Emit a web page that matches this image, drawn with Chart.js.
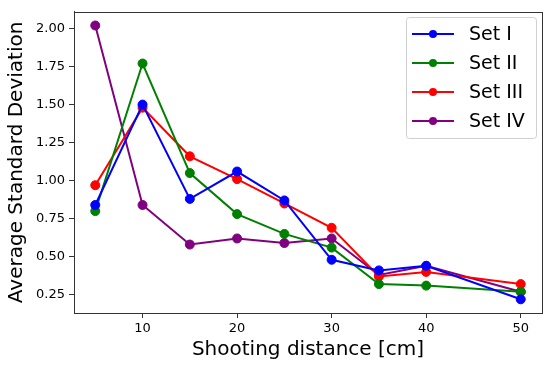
<!DOCTYPE html>
<html>
<head>
<meta charset="utf-8">
<script src="https://cdn.jsdelivr.net/npm/chart.js@4"></script>
<style>
  html, body { margin: 0; padding: 0; background: #fff; }
  #wrap { width: 550px; height: 368px; }
</style>
</head>
<body>
<div id="wrap"><canvas id="chart" width="550" height="368"></canvas></div>
<script>
// 數據
const distances = [5, 10, 15, 20, 25, 30, 35, 40, 50];
const setI   = [0.84, 1.50, 0.88, 1.06, 0.87, 0.48, 0.41, 0.44, 0.22];
const setII  = [0.80, 1.77, 1.05, 0.78, 0.65, 0.56, 0.32, 0.31, 0.27];
const setIII = [0.97, 1.48, 1.16, 1.01, 0.85, 0.69, 0.37, 0.40, 0.32];
const setIV  = [2.02, 0.84, 0.58, 0.62, 0.59, 0.62, 0.38, 0.44, 0.27];
const seriesNames = ['Set I', 'Set II', 'Set III', 'Set IV'];
const seriesColors = ['#0000ff', '#008000', '#ff0000', '#800080'];
const xTicks = [10, 20, 30, 40, 50];
const yTicks = [0.25, 0.50, 0.75, 1.00, 1.25, 1.50, 1.75, 2.00];

const FONT = 'DejaVu Sans';
const AXIS = '#333';

function makeSet(label, values, color) {
    return {
        label: label,
        data: distances.map((x, i) => ({ x: x, y: values[i] })),
        borderColor: color,
        backgroundColor: color,
        borderWidth: 2,
        pointRadius: 4.5,
        pointBorderWidth: 1,
        pointHoverRadius: 4.5,
        tension: 0
    };
}

// 框線
const boxPlugin = {
    id: 'box',
    afterDraw(chart) {
        const { ctx, chartArea: a } = chart;
        ctx.save();
        ctx.strokeStyle = AXIS;
        ctx.lineWidth = 1;
        ctx.strokeRect(Math.round(a.left) + 0.5, Math.round(a.top) + 0.5,
            Math.round(a.right - a.left), Math.round(a.bottom - a.top));
        ctx.restore();
    }
};

// 圖例（圖內右上）
const legendPlugin = {
    id: 'boxLegend',
    afterDraw(chart) {
        const ctx = chart.ctx;
        const x0 = 406, y0 = 17, w = 130, rowH = 29;
        const h = rowH * chart.data.datasets.length + 5;
        ctx.save();
        ctx.fillStyle = 'rgba(255,255,255,0.8)';
        ctx.strokeStyle = '#d0d0d0';
        ctx.lineWidth = 1;
        ctx.beginPath();
        ctx.roundRect(x0 + 0.5, y0 + 0.5, w, h, 3);
        ctx.fill();
        ctx.stroke();
        ctx.font = '19px "' + FONT + '"';
        ctx.textBaseline = 'middle';
        chart.data.datasets.forEach((ds, i) => {
            const cy = y0 + 17 + i * rowH;
            ctx.strokeStyle = ds.borderColor;
            ctx.lineWidth = 2;
            ctx.beginPath();
            ctx.moveTo(412, cy);
            ctx.lineTo(454, cy);
            ctx.stroke();
            ctx.fillStyle = ds.borderColor;
            ctx.beginPath();
            ctx.arc(433, cy, 4, 0, Math.PI * 2);
            ctx.fill();
            ctx.fillStyle = '#000';
            ctx.fillText(ds.label, 469, cy + 1);
        });
        ctx.restore();
    }
};

const datasets = [setI, setII, setIII, setIV].map((v, i) => makeSet(seriesNames[i], v, seriesColors[i]));

new Chart(document.getElementById('chart').getContext('2d'), {
    type: 'line',
    data: { datasets: datasets },
    options: {
        responsive: false,
        animation: false,
        layout: { padding: { left: 0, right: 8, top: 8, bottom: 0 } },
        plugins: {
            legend: { display: false },
            tooltip: { enabled: false }
        },
        scales: {
            x: {
                type: 'linear',
                min: 2.75,
                max: 52.25,
                afterFit: s => { s.height = 55; },
                afterBuildTicks: s => { s.ticks = xTicks.map(v => ({ value: v })); },
                grid: { drawOnChartArea: false, drawTicks: true, tickLength: 5, color: AXIS },
                border: { color: AXIS, width: 1 },
                ticks: { color: '#000', font: { family: FONT, size: 13 }, padding: 3, maxRotation: 0 },
                title: {
                    display: true,
                    text: 'Shooting distance [cm]',
                    color: '#000',
                    font: { family: FONT, size: 20 },
                    padding: { top: 0, bottom: 6 }
                }
            },
            y: {
                type: 'linear',
                min: 0.13,
                max: 2.11,
                afterFit: s => { s.width = 74; },
                afterBuildTicks: s => { s.ticks = yTicks.map(v => ({ value: v })); },
                grid: { drawOnChartArea: false, drawTicks: true, tickLength: 5, color: AXIS },
                border: { color: AXIS, width: 1 },
                ticks: {
                    color: '#000',
                    font: { family: FONT, size: 13 },
                    padding: 4,
                    callback: v => v.toFixed(2)
                },
                title: {
                    display: true,
                    text: 'Average Standard Deviation',
                    color: '#000',
                    font: { family: FONT, size: 20 },
                    padding: { top: 5, bottom: 0 }
                }
            }
        }
    },
    plugins: [boxPlugin, legendPlugin]
});
</script>
</body>
</html>
